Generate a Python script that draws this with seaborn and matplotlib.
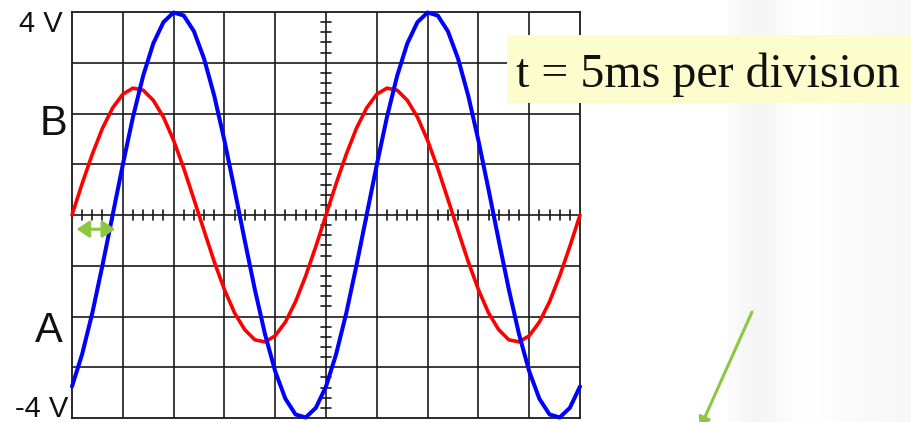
#!/usr/bin/env python3

import matplotlib
matplotlib.use("Agg")
from matplotlib.patches import Rectangle, FancyArrowPatch
from matplotlib.pyplot import figure, savefig, close
import pandas as pd
import seaborn as sns

# time axis (ms), 5 ms per division, 10 divisions
TIME_MS = list(range(0, 51))
# trace A (red), volts
TRACE_A = [
    0.00, 0.62, 1.20, 1.71, 2.11, 2.38, 2.50, 2.46, 2.26, 1.93,
    1.47, 0.92, 0.31, -0.31, -0.92, -1.47, -1.93, -2.26, -2.46, -2.50,
    -2.38, -2.11, -1.71, -1.20, -0.62,
    0.00, 0.62, 1.20, 1.71, 2.11, 2.38, 2.50, 2.46, 2.26, 1.93,
    1.47, 0.92, 0.31, -0.31, -0.92, -1.47, -1.93, -2.26, -2.46, -2.50,
    -2.38, -2.11, -1.71, -1.20, -0.62, 0.00,
]
# trace B (blue), volts
TRACE_B = [
    -3.38, -2.74, -1.93, -0.99, 0.00, 0.99, 1.93, 2.74, 3.38, 3.80,
    3.99, 3.93, 3.62, 3.08, 2.35, 1.47, 0.50, -0.50, -1.47, -2.35,
    -3.08, -3.62, -3.93, -3.99, -3.80,
    -3.38, -2.74, -1.93, -0.99, 0.00, 0.99, 1.93, 2.74, 3.38, 3.80,
    3.99, 3.93, 3.62, 3.08, 2.35, 1.47, 0.50, -0.50, -1.47, -2.35,
    -3.08, -3.62, -3.93, -3.99, -3.80, -3.38,
]
LAG_ARROW_MS = [0.45, 4.25]
LAG_ARROW_V = -0.28
Y_LABELS = ["4 V", "B", "A", "-4 V"]
TIMEBASE = "t = 5ms per division"

W, H = 912, 422


def fx(px):
    return px / W


def fy(py):
    return (H - py) / H


def main():
    sns.set_style("white")
    matplotlib.rcParams["font.family"] = ["Liberation Sans", "DejaVu Sans"]
    data = pd.DataFrame({"t": TIME_MS, "A": TRACE_A, "B": TRACE_B})

    fig = figure(figsize=(W / 100, H / 100), dpi=100)
    fig.patch.set_facecolor("white")

    # slide background shading on the right
    bg = fig.add_axes([fx(728), 0, fx(912) - fx(728), 1])
    shade = [0.98, 0.962, 0.958, 0.97, 0.985, 0.995, 0.995, 0.99,
             0.985, 0.98, 0.975, 0.972, 0.97, 0.968]
    bg.imshow([shade], cmap="gray", vmin=0, vmax=1, aspect="auto",
              interpolation="bilinear")
    bg.axis("off")

    ax = fig.add_axes([fx(72), fy(418), fx(580) - fx(72), fy(12) - fy(418)])
    ax.set_xlim(0, 50)
    ax.set_ylim(-4, 4)
    ax.set_xticks([])
    ax.set_yticks([])
    for s in ax.spines.values():
        s.set_color("#1a1a1a")
        s.set_linewidth(1.3)
    for x in range(5, 50, 5):
        ax.axvline(x, color="#1a1a1a", lw=1.2, zorder=1)
    for y in range(-3, 4):
        ax.axhline(y, color="#1a1a1a", lw=1.2, zorder=1)
    # small division marks on the centre lines
    for x in range(1, 50):
        if x % 5:
            ax.plot([x, x], [-0.1, 0.1], color="#1a1a1a", lw=1.2, zorder=1)
    for k in range(-19, 20):
        if k % 5:
            y = k * 0.2
            ax.plot([24.5, 25.5], [y, y], color="#1a1a1a", lw=1.2, zorder=1)

    sns.lineplot(data=data, x="t", y="A", color="#ff0000", lw=2.6, ax=ax,
                 zorder=3, clip_on=False)
    sns.lineplot(data=data, x="t", y="B", color="#0000ff", lw=2.9, ax=ax,
                 zorder=4, clip_on=False)
    ax.set_xlabel("")
    ax.set_ylabel("")

    lag = FancyArrowPatch((LAG_ARROW_MS[0], LAG_ARROW_V),
                          (LAG_ARROW_MS[1], LAG_ARROW_V),
                          arrowstyle="<|-|>,head_length=7.5,head_width=5",
                          color="#8dc63f", lw=2.2, mutation_scale=1,
                          shrinkA=0, shrinkB=0, zorder=5)
    ax.add_patch(lag)

    # side labels
    pos = [(63, 32, 21), (67, 135, 30), (63, 342, 30), (68, 417, 21)]
    for label, (px, py, size) in zip(Y_LABELS, pos):
        fig.text(fx(px), fy(py), label, ha="right", va="baseline",
                 fontsize=size, color="#111111")

    box = Rectangle((fx(507), fy(103)), fx(912) - fx(507), fy(35) - fy(103),
                    transform=fig.transFigure, facecolor="#fcfccc",
                    edgecolor="none", zorder=10)
    fig.add_artist(box)
    fig.text(fx(516), fy(87), TIMEBASE, ha="left", va="baseline",
             fontsize=34.5, family="Liberation Serif", color="#111111",
             zorder=11)

    pointer = FancyArrowPatch((fx(752), fy(312)), (fx(700), fy(428)),
                              transform=fig.transFigure,
                              arrowstyle="-|>,head_length=6,head_width=3.5",
                              mutation_scale=1, color="#8dc63f", lw=2.2,
                              shrinkA=0, shrinkB=0)
    fig.add_artist(pointer)

    savefig("out.png", dpi=100)
    close()


if __name__ == "__main__":
    main()
